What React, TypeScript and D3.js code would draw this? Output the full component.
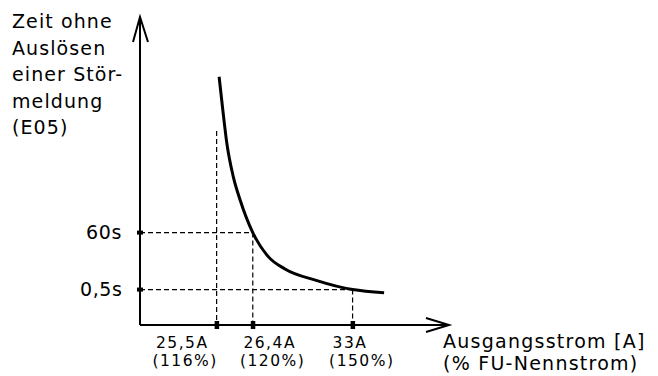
import React from "react";
import * as d3 from "d3";

// ---- data (schematic units: 0..100 along each axis) ----
const curveX = [25.6, 26.8, 28.1, 30.2, 32.4, 36.5, 41.5, 46.9, 57.0, 68.8, 79.0];
const curveY = [80.6, 69.8, 59.0, 48.1, 40.6, 30.0, 22.2, 18.2, 14.5, 11.5, 10.5];

const xTickValues = [24.8, 36.5, 68.8];
const xTickLabels = ["25,5A", "26,4A", "33A"];
const xTickPercents = ["(116%)", "(120%)", "(150%)"];

const yTickValues = [30.0, 11.5];
const yTickLabels = ["60s", "0,5s"];

const guideTop = 63.0; // top of the 25,5A dashed marker

const yTitle = ["Zeit ohne", "Auslösen", "einer Stör-", "meldung", "(E05)"];
const xTitle = ["Ausgangsstrom [A]", "(% FU-Nennstrom)"];

// ---- layout ----
const W = 658;
const H = 376;
const FONT = "'DejaVu Sans', Verdana, sans-serif";
const xLabelDx = [-60.7, -9.4, -20];
const yLabelX = [86, 80];

export default function App() {
  const x = d3.scaleLinear().domain([0, 100]).range([140, 449]);
  const y = d3.scaleLinear().domain([0, 100]).range([325, 17]);
  const pts: [number, number][] = curveX.map((v, i) => [v, curveY[i]]);
  const line = d3
    .line<[number, number]>()
    .x((d) => x(d[0]))
    .y((d) => y(d[1]))
    .curve(d3.curveMonotoneX);

  const x0 = x(0);
  const y0 = y(0);
  const xEnd = x(100);
  const yEnd = y(100);
  const dash = "5,3";

  return (
    <svg
      width={W}
      height={H}
      style={{ position: "absolute", left: 0, top: 0, background: "#fff" }}
      fontFamily={FONT}
    >
      {/* dashed guides */}
      <g stroke="#000" strokeWidth={1.2} strokeDasharray={dash} fill="none">
        <line x1={x(xTickValues[0])} x2={x(xTickValues[0])} y1={y(guideTop)} y2={y0} />
        <line x1={x0} x2={x(xTickValues[1])} y1={y(yTickValues[0])} y2={y(yTickValues[0])} />
        <line x1={x(xTickValues[1])} x2={x(xTickValues[1])} y1={y(yTickValues[0])} y2={y0} />
        <line x1={x0} x2={x(xTickValues[2])} y1={y(yTickValues[1])} y2={y(yTickValues[1])} />
        <line x1={x(xTickValues[2])} x2={x(xTickValues[2])} y1={y(yTickValues[1])} y2={y0} />
      </g>

      {/* axes */}
      <g stroke="#000" strokeWidth={2} fill="none">
        <line x1={x0} x2={x0} y1={y0} y2={yEnd} />
        <line x1={x0} x2={xEnd} y1={y0} y2={y0} />
        <polyline points={`${x0 - 7},${yEnd + 25} ${x0},${yEnd} ${x0 + 8},${yEnd + 25}`} />
        <polyline points={`${xEnd - 23},${y0 - 7} ${xEnd},${y0} ${xEnd - 23},${y0 + 7}`} />
      </g>

      {/* tick squares */}
      {xTickValues.map((v, i) => (
        <rect key={"xt" + i} x={x(v) - 2} y={y0 - 4} width={4.5} height={8} fill="#000" />
      ))}
      {yTickValues.map((v, i) => (
        <rect key={"yt" + i} x={x0 - 3} y={y(v) - 2} width={6} height={4} fill="#000" />
      ))}

      {/* curve */}
      <path d={line(pts) || ""} fill="none" stroke="#000" strokeWidth={3} />

      {/* x tick labels (two lines) */}
      {xTickValues.map((v, i) => (
        <g key={"xl" + i} fontSize={15.5} letterSpacing={1.5} fill="#000">
          <text x={x(v) + xLabelDx[i]} y={347.5}>
            {xTickLabels[i]}
          </text>
          <text x={x(v) + xLabelDx[i] - 3.5} y={365.5}>
            {xTickPercents[i]}
          </text>
        </g>
      ))}

      {/* y tick labels */}
      {yTickValues.map((v, i) => (
        <text key={"yl" + i} x={yLabelX[i]} y={y(v) + 6} fontSize={19} letterSpacing={0.6} fill="#000">
          {yTickLabels[i]}
        </text>
      ))}

      {/* y title */}
      <g fontSize={19} letterSpacing={1.1} fill="#000">
        {yTitle.map((t, i) => (
          <text key={"yt" + i} x={12} y={28 + i * 26.5}>
            {t}
          </text>
        ))}
      </g>

      {/* x title */}
      <g fontSize={19} letterSpacing={1.25} fill="#000">
        {xTitle.map((t, i) => (
          <text key={"xti" + i} x={443} y={348 + i * 22}>
            {t}
          </text>
        ))}
      </g>
    </svg>
  );
}
